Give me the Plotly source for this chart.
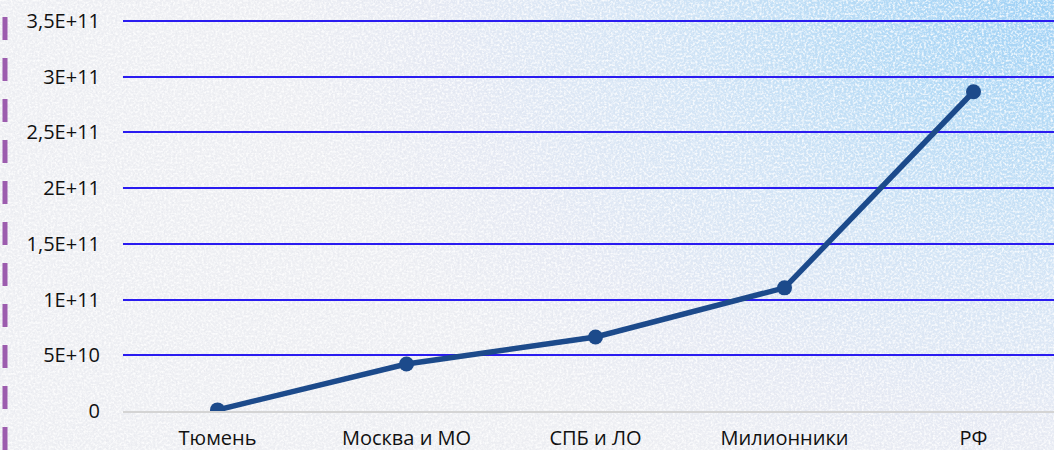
import base64
import plotly.graph_objects as go

categories = ["Тюмень", "Москва и МО", "СПБ и ЛО", "Милионники", "РФ"]
values = [1.0e9, 4.22e10, 6.64e10, 1.105e11, 2.865e11]
y_tick_vals = [0, 5e10, 1e11, 1.5e11, 2e11, 2.5e11, 3e11, 3.5e11]
y_tick_text = ["0", "5E+10", "1E+11", "1,5E+11", "2E+11", "2,5E+11", "3E+11", "3,5E+11"]

W, H = 1054, 450
ML, MR, MT, MB = 123, 0, 16, 39
PW, PH = W - ML - MR, H - MT - MB
PX_PER_UNIT = 390 / 3.5e11  # pixel scale

svg = f'''<svg xmlns="http://www.w3.org/2000/svg" width="{W}" height="{H}" viewBox="0 0 {W} {H}">
<defs>
<radialGradient id="g" gradientUnits="userSpaceOnUse" cx="1090" cy="-40" r="820" gradientTransform="translate(1090 -40) scale(1 0.7) translate(-1090 40)">
<stop offset="0" stop-color="#96cef6"/>
<stop offset="0.3" stop-color="#b6dbf6"/>
<stop offset="0.55" stop-color="#d4e5f6"/>
<stop offset="0.8" stop-color="#e6eaf4"/>
<stop offset="1" stop-color="#eeeff3"/>
</radialGradient>
<filter id="n" x="0" y="0" width="100%" height="100%">
<feTurbulence type="fractalNoise" baseFrequency="0.45" numOctaves="2" seed="5"/>
<feColorMatrix type="matrix" values="0 0 0 0 1  0 0 0 0 1  0 0 0 0 1  2.6 0 0 0 -1.05"/>
</filter>
<filter id="d" x="0" y="0" width="100%" height="100%">
<feTurbulence type="fractalNoise" baseFrequency="0.5" numOctaves="1" seed="11"/>
<feColorMatrix type="matrix" values="0 0 0 0 0.55  0 0 0 0 0.58  0 0 0 0 0.7  0 1.6 0 0 -0.8"/>
</filter>
</defs>
<rect width="{W}" height="{H}" fill="url(#g)"/>
<rect width="{W}" height="{H}" filter="url(#d)" opacity="0.3"/>
<rect width="{W}" height="{H}" filter="url(#n)" opacity="0.85"/>
</svg>'''
src = "data:image/svg+xml;base64," + base64.b64encode(svg.encode()).decode()

fig = go.Figure()
fig.add_trace(go.Scatter(
    x=categories, y=values, mode="lines+markers",
    line=dict(color="#1c4a8b", width=5.5),
    marker=dict(color="#1c4a8b", size=15),
    hoverinfo="skip", showlegend=False,
))

fig.add_layout_image(dict(
    source=src, xref="paper", yref="paper",
    x=-ML / PW, y=1 + MT / PH, sizex=W / PW, sizey=H / PH,
    xanchor="left", yanchor="top", sizing="stretch", layer="below",
))

fig.add_shape(type="line", xref="paper", yref="paper",
              x0=-(ML - 5) / PW, x1=-(ML - 5) / PW,
              y0=-MB / PH, y1=1 + MT / PH,
              line=dict(color="#9c5cae", width=5, dash="23px,18px"))

fig.update_layout(
    width=W, height=H,
    margin=dict(l=ML, r=MR, t=MT, b=MB),
    paper_bgcolor="#eef0f4", plot_bgcolor="rgba(0,0,0,0)",
    font=dict(family="Open Sans, Liberation Sans, sans-serif", color="#111111", size=20),
)
fig.update_xaxes(
    range=[-0.5, -0.5 + PW / 189.0], showgrid=False,
    showline=True, linecolor="#d4d4d4", linewidth=2,
    tickfont=dict(size=20, color="#111111"), ticks="", ticklabelstandoff=8,
    fixedrange=True,
)
fig.update_yaxes(
    range=[0, PH / PX_PER_UNIT], tickvals=y_tick_vals, ticktext=y_tick_text,
    showgrid=True, gridcolor="#2a1cf0", gridwidth=2,
    zeroline=False, showline=False,
    tickfont=dict(size=20, color="#111111"), ticklabelstandoff=22, fixedrange=True,
)

fig.write_html("out.html", config={"displayModeBar": False},
               post_script="document.body.style.margin='0';document.body.style.overflow='hidden';")
